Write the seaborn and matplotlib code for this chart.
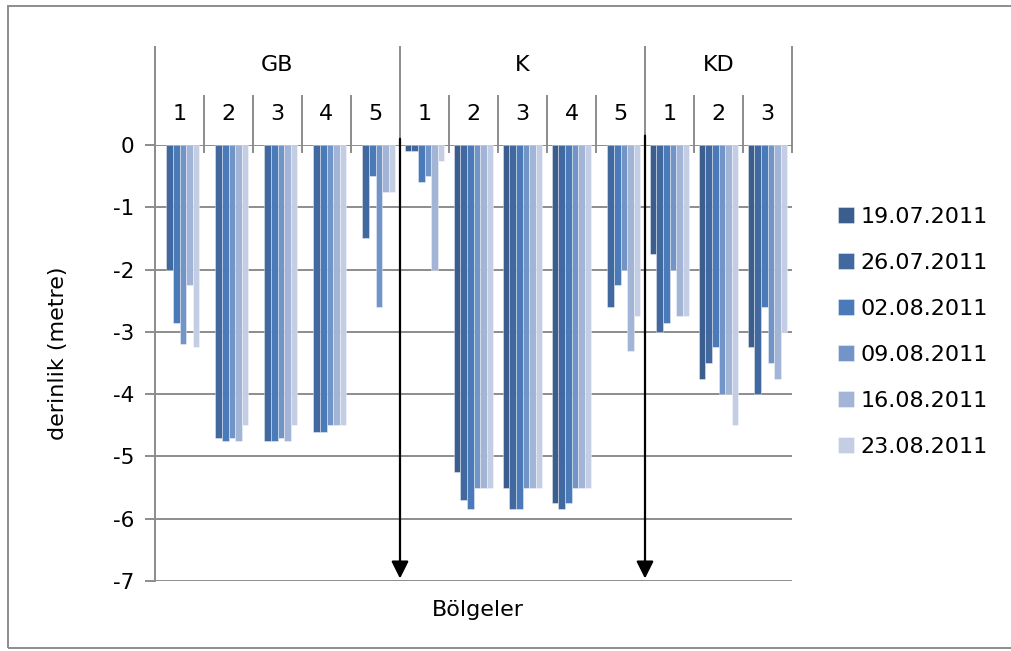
import numpy as np
import pandas as pd
import seaborn as sns
import matplotlib.pyplot as plt
import matplotlib.transforms as mtransforms
from matplotlib.patches import Rectangle

nan = np.nan

# bölgeler ve istasyonlar
gruplar = ["GB", "K", "KD"]
istasyonlar = [["1", "2", "3", "4", "5"], ["1", "2", "3", "4", "5"], ["1", "2", "3"]]
tarihler = ["19.07.2011", "26.07.2011", "02.08.2011", "09.08.2011", "16.08.2011", "23.08.2011"]
renkler = ["#3b5e8e", "#41699f", "#4a7ab7", "#7294c6", "#a3b5d6", "#c3cde4"]

# derinlik (metre), her tarih için GB1..GB5, K1..K5, KD1..KD3
d_1907 = [nan, nan, nan, nan, nan, -0.1, -5.25, -5.5, -5.75, nan, -1.75, -3.75, -3.25]
d_2607 = [-2.0, -4.7, -4.75, -4.6, -1.5, -0.1, -5.7, -5.85, -5.85, -2.6, -3.0, -3.5, -4.0]
d_0208 = [-2.85, -4.75, -4.75, -4.6, -0.5, -0.6, -5.85, -5.85, -5.75, -2.25, -2.85, -3.25, -2.6]
d_0908 = [-3.2, -4.7, -4.7, -4.5, -2.6, -0.5, -5.5, -5.5, -5.5, -2.0, -2.0, -4.0, -3.5]
d_1608 = [-2.25, -4.75, -4.75, -4.5, -0.75, -2.0, -5.5, -5.5, -5.5, -3.3, -2.75, -4.0, -3.75]
d_2308 = [-3.25, -4.5, -4.5, -4.5, -0.75, -0.25, -5.5, -5.5, -5.5, -2.75, -2.75, -4.5, -3.0]
seriler = [d_1907, d_2607, d_0208, d_0908, d_1608, d_2308]

slotlar = [g + "-" + s for g, ist in zip(gruplar, istasyonlar) for s in ist]
rows = []
for tarih, degerler in zip(tarihler, seriler):
    for slot, v in zip(slotlar, degerler):
        if not np.isnan(v):
            rows.append({"slot": slot, "derinlik": v, "tarih": tarih})
df = pd.DataFrame(rows)

plt.rcParams["font.family"] = ["DejaVu Sans"]
plt.rcParams["axes.unicode_minus"] = False

W, H = 1012, 651
fig = plt.figure(figsize=(W / 100, H / 100), dpi=100)


def fx(px):
    return px / W


def fy(py):
    return 1 - py / H


ax = fig.add_axes([fx(155), fy(581), fx(792) - fx(155), fy(145) - fy(581)])

sns.barplot(data=df, x="slot", y="derinlik", hue="tarih", order=slotlar, hue_order=tarihler,
            palette=renkler, saturation=1, errorbar=None, width=0.8,
            edgecolor=(1, 1, 1, 0.45), linewidth=0.6, ax=ax)

gri = "#8c8c8c"
ax.set_ylim(-7, 0)
ax.set_xlim(-0.5, len(slotlar) - 0.5)
ax.set_yticks(range(-7, 1))
ax.yaxis.grid(True, color=gri, lw=1.4)
ax.set_axisbelow(True)
for sp in ["top", "right", "bottom"]:
    ax.spines[sp].set_visible(False)
ax.spines["left"].set_color(gri)
ax.spines["left"].set_linewidth(1.4)
ax.tick_params(axis="y", length=7, width=1.4, color=gri, labelsize=15.5, pad=8)
ax.tick_params(axis="x", bottom=False, labelbottom=False)
ax.set_facecolor("none")

ax.set_ylabel("derinlik (metre)", fontsize=16)
ax.yaxis.set_label_coords(-0.152, 0.523)
ax.yaxis.label.set_va("center")
ax.set_xlabel("Bölgeler", fontsize=16)
ax.xaxis.set_label_coords(0.507, -0.067)
ax.xaxis.label.set_va("center")

# üst başlık (bölge / istasyon)
tr = mtransforms.blended_transform_factory(ax.transData, ax.transAxes)
y_top, y_mid, y_low = 1.2248, 1.1124, 0.984
pos = 0
sinirlar = [-0.5]
for g, ist in zip(gruplar, istasyonlar):
    n = len(ist)
    ax.text(pos + (n - 1) / 2, 1.183, g, transform=tr, ha="center", va="center", fontsize=16)
    for i, s in enumerate(ist):
        ax.text(pos + i, 1.071, s, transform=tr, ha="center", va="center", fontsize=16)
        if i > 0:
            ax.plot([pos + i - 0.5] * 2, [y_mid, y_low], transform=tr, color=gri, lw=1.4, clip_on=False)
    pos += n
    sinirlar.append(pos - 0.5)
for b in sinirlar:
    ax.plot([b, b], [y_top, y_low], transform=tr, color=gri, lw=1.4, clip_on=False)

# oklar
for xb, ys in [(4.5, 0.1), (9.5, 0.15)]:
    ax.annotate("", xy=(xb, -6.96), xytext=(xb, ys), annotation_clip=False,
                arrowprops=dict(arrowstyle="-|>", color="black", lw=1.6, mutation_scale=26,
                                shrinkA=0, shrinkB=0))

handles, labels = ax.get_legend_handles_labels()
ax.legend(handles, labels, loc="upper left", bbox_to_anchor=(fx(838), fy(207)),
          bbox_transform=fig.transFigure, frameon=False, fontsize=16,
          handlelength=0.7, handleheight=0.7, handletextpad=0.3, labelspacing=1.17,
          borderaxespad=0, borderpad=0)

fig.patches.append(Rectangle((fx(8), fy(648)), fx(1100), fy(5.5) - fy(648), transform=fig.transFigure,
                             fill=False, edgecolor=gri, lw=1.4))

fig.savefig("out.png", dpi=100, facecolor="white")
